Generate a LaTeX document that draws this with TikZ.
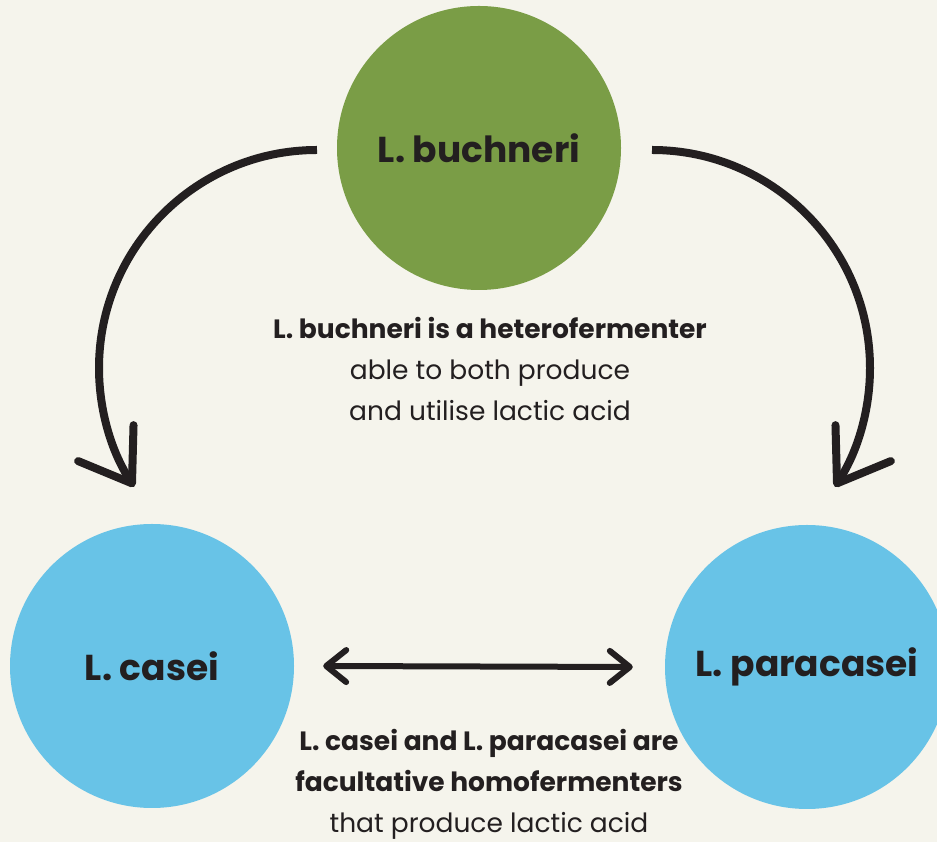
\documentclass[tikz,border=0pt]{standalone}
\usepackage{fontspec}
\setmainfont{Poppins}
\usetikzlibrary{arrows.meta}
\definecolor{bg}{HTML}{F5F4EC}
\definecolor{leaf}{HTML}{7A9D46}
\definecolor{sky}{HTML}{68C3E7}
\definecolor{ink}{HTML}{231F20}
\tikzset{
  bubble/.style={circle, minimum size=284pt, inner sep=0pt, text=ink, font=\fontsize{36}{42}\selectfont\bfseries},
  curvearrow/.style={draw=ink, line width=8pt, -{Straight Barb[length=48pt, width=66pt, round]}},
  twoway/.style={draw=ink, line width=6pt, {Straight Barb[length=20pt, width=32pt, round]}-{Straight Barb[length=20pt, width=32pt, round]}},
  caption/.style={align=center, text=ink, font=\fontsize{26.5}{41}\selectfont}
}
\begin{document}
\begin{tikzpicture}[x=1pt, y=1pt]
  \useasboundingbox (0,0) rectangle (937,842);
  \clip (0,0) rectangle (937,842);
  \fill[bg] (0,0) rectangle (937,842);

  \node[bubble, fill=leaf] (buch) at (479,694) {L. buchneri};
  \node[bubble, fill=sky] (casei) at (152,176) {L. casei};
  \node[bubble, fill=sky] (para) at (807,175) {L. paracasei};

  \coordinate (lstart) at (317,692);
  \coordinate (rstart) at (652,692);
  \draw[curvearrow] (lstart) arc[start angle=90, end angle=213, radius=218];
  \draw[curvearrow] (rstart) arc[start angle=90, end angle=-33, radius=218];

  \draw[twoway] ([xshift=29pt]casei.east) -- ([xshift=-32pt]para.west);

  \node[caption] (topnote) at (490,473) {\textbf{L. buchneri is a heterofermenter}\\able to both produce\\and utilise lactic acid};
  \node[caption] (botnote) at (489,58) {\textbf{L. casei and L. paracasei are}\\\textbf{facultative homofermenters}\\that produce lactic acid};
\end{tikzpicture}
\end{document}
